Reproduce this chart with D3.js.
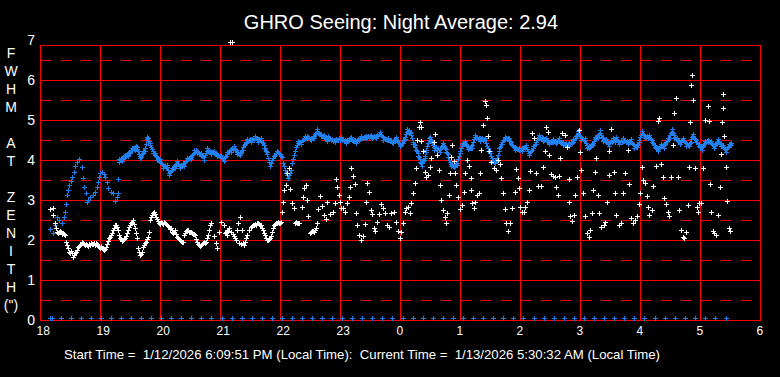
<!DOCTYPE html>
<html><head><meta charset="utf-8">
<script src="https://cdn.jsdelivr.net/npm/d3@7"></script>
<style>html,body{margin:0;padding:0;background:#000;}svg{display:block;}</style>
</head><body>
<script>
// Time is in minutes after 18:00 local time
const xTickHours = [18,19,20,21,22,23,0,1,2,3,4,5,6];
const yTicks = [0,1,2,3,4,5,6,7];
const yHalfTicks = [0.5,1.5,2.5,3.5,4.5,5.5,6.5];
const yLabelLetters = ["F","W","H","M","","A","T","","Z","E","N","I","T","H","(\")"];
const titleText = "GHRO Seeing: Night Average: 2.94";
const footerText = "Start Time =  1/12/2026 6:09:51 PM (Local Time):  Current Time =  1/13/2026 5:30:32 AM (Local Time)";

const blueTimes = [10,13,15,17,19,22,24,25,26,27,28,29,31,32,34,35,37,39,42,43,44,46,47,48,50,53,55,57,58,59,60,62,64,65,67,68,71,73,75,77,78,78,79,82,85,88,92,95,97,100,103,105,107,108,110,113,115,117,120,123,127,129,132,135,137,140,143,144,147,151,154,157,161,164,167,171,174,177,181,184,187,191,194,197,200,203,207,211,215,218,221,224,227,229,230,232,235,237,240,242,243,245,247,248,249,251,252,254,256,258,261,265,267,271,274,277,281,284,287,288,295,301,306,311,316,321,326,331,336,340,343,348,353,356,360,363,365,367,369,371,373,375,378,380,382,385,386,389,390,392,394,396,400,403,406,408,411,414,417,420,422,425,428,431,432,435,440,445,448,450,452,455,457,459,462,465,469,471,475,479,482,486,489,493,496,499,503,506,509,513,516,519,523,526,529,533,536,538,541,545,547,549,553,555,558,560,563,566,569,573,575,576,579,583,588,591,594,597,599,602,605,609,612,615,618,621,624,628,630,632,634,637,640,643,646,649,651,653,656,659,662,665,668,671,674,678,681,683,686,689,691];
const blueValues = [2.28,2.17,2.37,2.58,2.5,2.42,2.58,2.71,2.9,3.12,3.25,3.37,3.48,3.58,3.71,3.85,3.96,4.02,3.82,3.55,3.32,3.18,2.96,3.0,3.07,3.12,3.21,3.33,3.46,3.58,3.68,3.71,3.65,3.58,3.46,3.29,3.21,3.18,2.98,3.08,3.18,3.52,3.96,4.04,4.07,4.17,4.25,4.32,4.27,4.1,4.17,4.29,4.52,4.54,4.37,4.23,4.12,4.07,3.96,3.87,3.82,3.68,3.75,3.87,3.92,3.85,3.87,3.92,4.0,4.08,4.18,4.23,4.12,4.07,4.23,4.21,4.17,4.15,4.07,4.04,4.15,4.27,4.29,4.21,4.12,4.32,4.46,4.5,4.54,4.52,4.5,4.37,4.15,3.96,3.85,4.0,4.12,4.23,4.15,4.07,3.93,3.75,3.62,3.54,3.62,3.75,3.93,4.12,4.32,4.42,4.46,4.54,4.6,4.5,4.6,4.71,4.65,4.57,4.54,4.54,4.5,4.52,4.48,4.52,4.48,4.54,4.6,4.57,4.6,4.65,4.57,4.5,4.48,4.52,4.4,4.43,4.58,4.71,4.75,4.62,4.46,4.32,4.17,3.96,3.92,4.04,4.25,4.5,4.57,4.42,4.32,4.27,4.27,4.37,4.27,4.08,3.9,3.83,3.93,4.17,4.4,4.42,4.33,4.29,4.37,4.57,4.54,4.5,4.29,4.17,4.04,3.93,4.04,4.23,4.46,4.52,4.54,4.4,4.32,4.25,4.29,4.32,4.18,4.29,4.46,4.57,4.54,4.5,4.46,4.46,4.48,4.48,4.43,4.37,4.42,4.46,4.6,4.67,4.57,4.5,4.37,4.29,4.43,4.52,4.62,4.68,4.54,4.46,4.42,4.48,4.52,4.52,4.46,4.48,4.46,4.46,4.37,4.32,4.5,4.67,4.6,4.57,4.5,4.32,4.29,4.35,4.37,4.5,4.62,4.71,4.62,4.5,4.46,4.5,4.42,4.35,4.52,4.6,4.5,4.35,4.32,4.42,4.5,4.42,4.35,4.46,4.4,4.32,4.27,4.35,4.43];
// further readings of the dense blue band
const blueTimes2 = [80,81,83,84,86,87,89,90,91,93,94,96,98,99,101,102,104,106,109,111,112,114,116,118,119,121,122,124,125,126,128,130,131,133,134,136,138,139,141,142,145,146,148,149,150,152,153,155,156,158,159,160,162,163,165,166,168,169,170,172,173,175,176,178,179,180,182,183,185,186,188,189,190,192,193,195,196,198,199,201,202,204,205,206,208,209,210,212,213,214,216,217,219,220,222,223,225,226,228,231,233,234,236,238,239,241,244,246,250,253,255,257,259,260,262,263,264,266,268,269,270,272,273,275,276,278,279,280,282,283,285,286,289,290,291,292,293,294,296,297,298,299,300,302,303,304,305,307,308,309,310,312,313,314,315,317,318,319,320,322,323,324,325,327,328,329,330,332,333,334,335,337,338,339,341,342,344,345,346,347,349,350,351,352,354,355,357,358,359,361,362,364,366,368,370,372,374,376,377,379,381,383,384,387,388,391,393,395,397,398,399,401,402,404,405,407,409,410,412,413,415,416,418,419,421,423,424,426,427,429,430,433,434,436,437,438,439,441,442,443,444,446,447,449,451,453,454,456,458,460,461,463,464,466,467,468,470,472,473,474,476,477,478,480,481,483,484,485,487,488,490,491,492,494,495,497,498,500,501,502,504,505,507,508,510,511,512,514,515,517,518,520,521,522,524,525,527,528,530,531,532,534,535,537,539,540,542,543,544,546,548,550,551,552,554,556,557,559,561,562,564,565,567,568,570,571,572,574,577,578,580,581,582,584,585,586,587,589,590,592,593,595,596,598,600,601,603,604,606,607,608,610,611,613,614,616,617,619,620,622,623,625,626,627,629,631,633,635,636,638,639,641,642,644,645,647,648,650,652,654,655,657,658,660,661,663,664,666,667,669,670,672,673,675,676,677,679,680,682,684,685,687,688,690];
const blueValues2 = [4.0,4.06,4.02,4.09,4.1,4.13,4.2,4.18,4.24,4.29,4.27,4.34,4.22,4.15,4.08,4.14,4.22,4.4,4.47,4.33,4.27,4.18,4.1,4.03,3.99,3.93,3.9,3.85,3.87,3.8,3.75,3.7,3.72,3.8,3.83,3.9,3.89,3.86,3.84,3.88,3.95,3.97,4.03,4.05,4.04,4.12,4.15,4.2,4.25,4.19,4.16,4.14,4.09,4.1,4.13,4.18,4.25,4.2,4.22,4.19,4.2,4.14,4.17,4.12,4.1,4.09,4.05,4.02,4.08,4.11,4.19,4.22,4.25,4.3,4.26,4.27,4.24,4.17,4.14,4.18,4.25,4.37,4.4,4.44,4.47,4.49,4.52,4.52,4.55,4.51,4.55,4.52,4.53,4.49,4.46,4.42,4.3,4.22,4.06,3.92,4.05,4.09,4.18,4.2,4.18,4.1,3.85,3.68,3.68,4.02,4.22,4.38,4.44,4.45,4.49,4.5,4.52,4.56,4.57,4.54,4.52,4.54,4.57,4.64,4.68,4.68,4.67,4.66,4.61,4.59,4.56,4.55,4.52,4.55,4.49,4.53,4.48,4.51,4.53,4.49,4.51,4.54,4.5,4.49,4.53,4.47,4.5,4.51,4.47,4.5,4.54,4.5,4.47,4.51,4.49,4.5,4.52,4.49,4.53,4.56,4.55,4.58,4.57,4.58,4.61,4.56,4.59,4.55,4.58,4.6,4.57,4.62,4.6,4.66,4.62,4.6,4.55,4.53,4.52,4.5,4.49,4.47,4.5,4.46,4.5,4.49,4.49,4.45,4.42,4.38,4.42,4.5,4.65,4.73,4.7,4.55,4.4,4.25,4.22,4.07,3.93,3.97,4.0,4.35,4.43,4.5,4.37,4.3,4.25,4.29,4.26,4.3,4.34,4.35,4.31,4.17,4.0,3.95,3.87,3.85,3.86,3.9,4.03,4.1,4.3,4.43,4.4,4.39,4.36,4.31,4.3,4.45,4.52,4.55,4.58,4.53,4.56,4.52,4.55,4.5,4.53,4.43,4.36,4.23,4.1,4.0,3.96,3.98,4.13,4.32,4.4,4.49,4.5,4.55,4.52,4.56,4.47,4.37,4.35,4.33,4.3,4.27,4.28,4.26,4.27,4.3,4.33,4.3,4.27,4.22,4.2,4.23,4.26,4.35,4.41,4.5,4.54,4.56,4.53,4.57,4.51,4.52,4.48,4.47,4.44,4.48,4.45,4.47,4.45,4.46,4.5,4.46,4.44,4.46,4.41,4.39,4.38,4.4,4.41,4.44,4.43,4.5,4.55,4.63,4.63,4.6,4.55,4.53,4.51,4.43,4.33,4.32,4.36,4.4,4.47,4.55,4.58,4.65,4.62,4.58,4.5,4.48,4.44,4.43,4.44,4.47,4.45,4.5,4.49,4.48,4.45,4.49,4.46,4.47,4.49,4.45,4.48,4.44,4.47,4.42,4.4,4.35,4.33,4.4,4.57,4.62,4.64,4.62,4.58,4.6,4.56,4.55,4.52,4.43,4.37,4.3,4.31,4.31,4.33,4.36,4.38,4.4,4.44,4.47,4.56,4.67,4.67,4.57,4.53,4.48,4.47,4.48,4.49,4.47,4.44,4.39,4.37,4.43,4.57,4.56,4.53,4.45,4.4,4.33,4.32,4.36,4.39,4.45,4.48,4.47,4.44,4.39,4.37,4.38,4.42,4.44,4.44,4.42,4.36,4.3,4.28,4.3,4.32,4.4];
// readings along the upper and lower edges of the blue band
const blueTimes3 = [79,82,85,88,92,95,97,100,103,105,107,108,110,113,115,117,120,123,127,129,132,135,137,140,143,144,147,151,154,157,161,164,167,171,174,177,181,184,187,191,194,197,200,203,207,211,215,218,221,224,227,258,261,265,267,271,274,277,281,284,287,288,295,301,306,311,316,321,326,331,336,340,343,348,353,356,360,363,365,367,369,371,373,375,378,380,382,385,386,389,390,392,394,396,400,403,406,408,411,414,417,420,422,425,428,431,432,435,440,445,448,450,452,455,457,459,462,465,469,471,475,479,482,486,489,493,496,499,503,506,509,513,516,519,523,526,529,533,536,538,541,545,547,549,553,555,558,560,563,566,569,573,575,576,579,583,588,591,594,597,599,602,605,609,612,615,618,621,624,628,630,632,634,637,640,643,646,649,651,653,656,659,662,665,668,671,674,678,681,683,686,689,691];
const blueValues3 = [4.02,3.98,4.13,4.11,4.31,4.26,4.33,4.04,4.23,4.23,4.58,4.48,4.43,4.17,4.18,4.01,4.02,3.81,3.88,3.62,3.81,3.81,3.98,3.79,3.93,3.86,4.06,4.02,4.24,4.17,4.18,4.01,4.29,4.15,4.23,4.09,4.13,3.98,4.21,4.21,4.35,4.15,4.18,4.26,4.52,4.44,4.6,4.46,4.56,4.31,4.21,4.48,4.4,4.6,4.54,4.56,4.54,4.77,4.59,4.63,4.48,4.6,4.44,4.58,4.42,4.58,4.42,4.6,4.54,4.63,4.54,4.71,4.51,4.56,4.42,4.58,4.34,4.49,4.52,4.77,4.69,4.68,4.4,4.38,4.11,4.02,3.86,4.1,4.19,4.56,4.51,4.48,4.26,4.33,4.21,4.43,4.21,4.14,3.84,3.89,3.87,4.23,4.34,4.48,4.27,4.35,4.31,4.63,4.48,4.56,4.23,4.23,3.98,3.99,3.98,4.29,4.4,4.58,4.48,4.46,4.26,4.31,4.23,4.38,4.12,4.35,4.4,4.63,4.48,4.56,4.4,4.52,4.42,4.54,4.37,4.43,4.36,4.52,4.54,4.73,4.51,4.56,4.31,4.35,4.37,4.58,4.56,4.74,4.48,4.52,4.36,4.54,4.46,4.58,4.4,4.54,4.4,4.52,4.31,4.38,4.44,4.73,4.54,4.63,4.44,4.38,4.23,4.41,4.31,4.56,4.56,4.77,4.56,4.56,4.4,4.56,4.36,4.41,4.46,4.66,4.44,4.41,4.26,4.48,4.44,4.48,4.29,4.52,4.34,4.38,4.21,4.41,4.37];

const whiteTimes = [10,13,13,15,16,17,18,21,23,25,26,27,29,32,33,35,37,38,41,43,47,50,53,57,59,62,64,66,68,71,73,75,77,79,80,83,85,87,89,92,93,95,97,98,100,102,103,106,108,110,113,114,117,119,122,125,127,131,133,135,137,140,143,144,147,150,152,155,157,159,162,166,168,170,171,174,176,177,179,181,184,187,187,189,190,192,196,197,198,200,202,205,207,209,211,214,217,221,223,225,227,230,232,234,237,239,241,242,243,244,246,247,249,250,252,254,257,259,262,263,264,266,267,268,270,272,275,277,278,280,282,284,286,287,290,293,295,296,297,299,300,301,303,305,307,309,310,311,313,315,316,317,319,321,323,325,326,327,329,331,332,334,335,337,339,341,343,345,347,349,351,354,356,358,360,361,363,365,366,368,370,371,373,375,376,377,379,380,381,381,383,385,386,388,390,391,394,395,397,399,400,401,403,405,406,407,409,410,411,412,414,415,416,418,420,422,424,425,427,429,431,431,432,434,435,437,439,440,441,443,445,446,447,448,449,451,454,456,458,460,461,463,465,466,468,470,472,475,476,478,479,480,482,484,485,487,489,490,492,494,496,498,501,503,505,506,508,509,511,513,515,516,518,519,520,522,525,527,529,529,530,532,534,535,537,539,540,541,543,545,547,549,550,552,553,555,556,558,559,561,564,565,567,569,569,571,574,575,576,579,581,583,585,588,589,591,593,595,597,599,600,602,603,605,607,608,609,612,613,616,618,619,621,623,624,626,628,629,631,633,634,636,638,639,641,643,644,646,648,649,650,651,652,653,655,657,658,659,661,663,665,668,669,670,671,673,674,676,678,680,681,682,683,683,684,686,687,689,690];
const whiteValues = [2.77,2.79,2.62,2.42,2.29,2.21,2.17,2.2,2.17,2.12,1.96,1.87,1.71,1.67,1.58,1.67,1.75,1.83,1.9,1.93,1.87,1.87,1.9,1.9,1.83,1.79,1.75,1.83,1.98,2.12,2.25,2.37,2.33,2.12,2.04,2.0,2.04,2.17,2.33,2.46,2.5,2.29,2.04,1.79,1.62,1.71,1.83,1.96,2.08,2.5,2.67,2.71,2.52,2.42,2.42,2.42,2.37,2.29,2.17,2.25,2.08,2.0,1.96,2.12,2.25,2.21,2.17,2.12,1.96,1.87,1.9,1.96,2.12,2.37,2.42,2.1,1.92,1.79,2.21,2.46,2.37,2.25,2.12,2.29,6.95,6.95,2.0,2.25,2.42,2.58,2.25,1.96,2.12,2.25,2.33,2.37,2.42,2.37,2.25,2.12,2.0,2.04,2.21,2.37,2.43,2.42,2.46,2.71,2.96,3.25,3.37,3.67,3.79,3.27,2.92,2.79,2.43,2.43,2.83,3.08,3.29,3.37,3.0,2.6,2.18,2.22,2.25,2.42,2.77,3.1,2.85,2.62,2.52,2.96,2.65,2.71,2.92,3.52,3.33,3.12,2.96,2.79,2.8,2.71,2.92,3.08,3.33,3.79,3.6,3.4,2.67,2.37,2.12,2.0,2.1,2.4,2.96,3.42,3.21,2.75,2.65,2.29,2.22,2.46,2.65,2.9,2.8,2.67,2.37,2.33,2.68,2.71,2.46,2.22,2.04,2.21,2.42,2.71,2.8,2.83,2.67,2.92,3.17,3.42,3.79,4.5,4.83,4.96,4.83,4.48,4.23,3.71,3.58,3.62,3.83,4.04,4.46,4.65,4.12,3.75,3.37,3.0,2.75,2.58,2.42,2.67,3.12,3.67,4.08,4.37,3.98,3.67,3.37,3.08,2.77,2.87,3.21,3.67,4.0,3.85,3.54,3.25,2.92,2.8,2.96,3.12,3.18,3.67,4.25,4.87,5.48,5.37,5.04,4.6,4.23,3.96,3.79,3.75,4.0,3.9,3.54,3.18,2.77,2.43,2.23,2.42,2.79,3.21,3.77,3.54,3.3,2.83,2.71,2.7,2.83,2.96,3.25,3.73,4.67,4.54,3.68,3.35,3.35,3.82,4.23,4.83,4.71,4.12,3.65,3.6,3.58,3.33,3.12,3.6,4.04,4.68,4.62,4.32,3.52,2.96,2.6,2.48,2.62,3.12,3.58,4.75,4.2,3.75,3.17,2.6,2.17,2.08,2.25,2.67,3.25,3.71,4.04,3.12,2.67,2.33,2.38,2.46,2.96,3.62,4.23,4.77,3.71,3.17,2.62,2.37,2.42,3.17,3.67,4.25,3.4,2.54,2.42,2.5,2.6,2.9,3.17,3.83,3.5,3.42,3.1,2.83,2.62,2.75,3.35,3.85,4.98,5.04,3.9,3.57,3.04,2.9,2.71,2.6,3.58,4.37,5.17,5.54,3.58,2.75,2.25,2.08,2.04,2.21,2.88,3.83,4.96,5.87,6.12,5.5,3.79,2.83,2.71,2.92,2.93,3.79,5.0,5.35,4.98,3.4,2.71,2.23,2.18,2.12,2.62,3.33,4.15,4.96,5.65,5.31,4.6,3.82,2.98,2.29,2.23];
// further readings of the dense white band (18:00-22:40)
const whiteTimes2 = [19,20,22,24,28,30,31,34,36,39,40,42,44,45,46,48,49,51,52,54,55,56,58,60,61,63,65,67,69,70,72,74,76,78,81,82,84,86,88,90,91,94,96,99,101,104,105,107,109,111,112,115,116,118,120,121,123,124,126,128,129,130,132,134,136,138,139,141,142,145,146,148,149,151,153,154,156,158,160,161,163,164,165,167,169,185,186,188,191,193,194,195,199,201,203,204,206,212,213,215,216,218,219,220,222,224,226,228,229,231,233,235,236,238,240,255,256,258,271,273,274,276];
const whiteValues2 = [2.19,2.22,2.15,2.14,1.8,1.68,1.72,1.62,1.7,1.86,1.88,1.95,1.9,1.88,1.9,1.85,1.9,1.92,1.89,1.93,1.88,1.92,1.86,1.81,1.84,1.77,1.78,1.9,2.04,2.08,2.18,2.3,2.38,2.25,2.02,1.98,2.03,2.1,2.25,2.38,2.42,2.4,2.17,1.7,1.65,1.88,1.92,2.02,2.2,2.58,2.62,2.65,2.58,2.48,2.4,2.45,2.4,2.44,2.4,2.35,2.32,2.27,2.2,2.2,2.15,2.05,2.02,1.98,1.94,2.18,2.22,2.24,2.2,2.19,2.15,2.14,2.02,1.9,1.85,1.88,1.92,1.95,1.93,2.05,2.25,2.18,2.2,2.22,2.19,2.15,2.1,2.05,1.93,1.9,1.92,1.88,2.05,2.35,2.38,2.4,2.38,2.42,2.4,2.38,2.3,2.18,2.05,2.0,2.02,2.1,2.3,2.4,2.42,2.44,2.43,2.42,2.45,2.42,2.2,2.22,2.2,2.3];

const zeroTimes = [10,12,21,31,41,51,61,71,81,91,101,111,121,131,141,151,161,171,182,192,202,212,222,232,242,252,262,272,282,292,302,312,322,332,342,352,363,373,383,393,403,413,423,433,443,453,463,473,483,494,504,514,524,534,544,554,564,574,584,594,604,615,625,635,645,655,665,675,686];
const zeroValues = zeroTimes.map(() => 0.06);

const W = 780, H = 377;
const font = "'Liberation Sans', Arial, sans-serif";
const x = d3.scaleLinear().domain([0, 720]).range([40, 760]);
const y = d3.scaleLinear().domain([0, 7]).range([320, 40]);

const svg = d3.select("body").append("svg").attr("width", W).attr("height", H)
  .style("background", "#000");

const grid = svg.append("g").attr("shape-rendering", "crispEdges");
const px = v => Math.round(v) + 0.5;
grid.selectAll("line.half").data(yHalfTicks).join("line")
  .attr("x1", 41).attr("x2", 760)
  .attr("y1", d => px(y(d))).attr("y2", d => px(y(d)))
  .attr("stroke", "#ff0000").attr("stroke-dasharray", "10,10");
grid.selectAll("line.full").data(yTicks.filter(d => d < 7)).join("line")
  .attr("x1", 40).attr("x2", 761)
  .attr("y1", d => px(y(d))).attr("y2", d => px(y(d)))
  .attr("stroke", "#ff0000");
grid.append("line").attr("x1", 40).attr("x2", 761).attr("y1", 45.5).attr("y2", 45.5).attr("stroke", "#ff0000");
const hourTicks = xTickHours.map((h, i) => i * 60);
grid.selectAll("line.v").data(hourTicks).join("line")
  .attr("x1", d => px(x(d))).attr("x2", d => px(x(d)))
  .attr("y1", 45).attr("y2", 321)
  .attr("stroke", "#ff0000");

const xAxis = d3.axisBottom(x).tickValues(hourTicks)
  .tickFormat((d, i) => String(xTickHours[i])).tickSize(0).tickPadding(0);
const gx = svg.append("g").attr("transform", "translate(0,335)").call(xAxis);
gx.select(".domain").remove();
gx.selectAll("text").attr("fill", "#fff").attr("font-family", font).attr("font-size", 12)
  .attr("text-anchor", "start").attr("dx", -4).attr("dy", 0).attr("y", 0);

const yAxis = d3.axisLeft(y).tickValues(yTicks).tickFormat(d3.format("d")).tickSize(0).tickPadding(0);
const gy = svg.append("g").attr("transform", "translate(35,0)").call(yAxis);
gy.select(".domain").remove();
gy.selectAll("text").attr("fill", "#fff").attr("font-family", font).attr("font-size", 14).attr("dy", "0.35em");

svg.append("g").selectAll("text").data(yLabelLetters).join("text")
  .attr("x", 11).attr("y", (d, i) => 53 + i * 18).attr("dy", "0.36em")
  .attr("text-anchor", "middle").attr("fill", "#fff")
  .attr("font-family", font).attr("font-size", 14).text(d => d);

svg.append("text").attr("x", 401).attr("y", 29).attr("text-anchor", "middle")
  .attr("fill", "#fff").attr("font-family", font).attr("font-size", 20).text(titleText);
svg.append("text").attr("x", 362).attr("y", 359).attr("text-anchor", "middle")
  .attr("fill", "#fff").attr("font-family", font).attr("font-size", 13.2)
  .style("white-space", "pre").text(footerText);

svg.append("clipPath").attr("id", "clip").append("rect").attr("x", 0).attr("y", 40).attr("width", W).attr("height", 290);
const dataG = svg.append("g").attr("clip-path", "url(#clip)").attr("shape-rendering", "crispEdges");
function plus(t, v) {
  const cx = px(x(t)), cy = px(y(v));
  return `M${cx - 2.5},${cy}h5M${cx},${cy - 2.5}v5`;
}
function drawSeries(times, values, color) {
  dataG.append("path").attr("d", times.map((t, i) => plus(t, values[i])).join(""))
    .attr("stroke", color).attr("stroke-width", 1).attr("fill", "none");
}
drawSeries(blueTimes, blueValues, "#2080f0");
drawSeries(blueTimes2, blueValues2, "#2080f0");
drawSeries(blueTimes3, blueValues3, "#2080f0");
drawSeries(whiteTimes, whiteValues, "#ffffff");
drawSeries(whiteTimes2, whiteValues2, "#ffffff");
drawSeries(zeroTimes, zeroValues, "#2080f0");
</script>
</body></html>
